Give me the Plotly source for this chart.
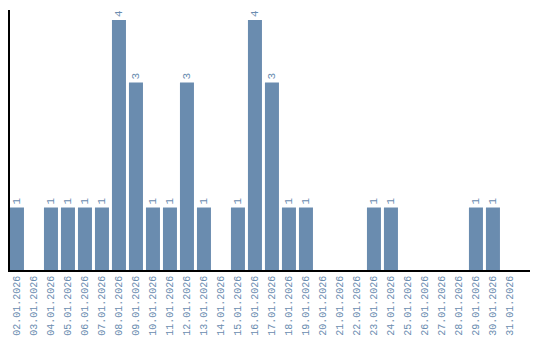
import plotly.graph_objects as go

dates = ["02.01.2026","03.01.2026","04.01.2026","05.01.2026","06.01.2026","07.01.2026",
         "08.01.2026","09.01.2026","10.01.2026","11.01.2026","12.01.2026","13.01.2026",
         "14.01.2026","15.01.2026","16.01.2026","17.01.2026","18.01.2026","19.01.2026",
         "20.01.2026","21.01.2026","22.01.2026","23.01.2026","24.01.2026","25.01.2026",
         "26.01.2026","27.01.2026","28.01.2026","29.01.2026","30.01.2026","31.01.2026"]
counts = [1,0,1,1,1,1,4,3,1,1,3,1,0,1,4,3,1,1,0,0,0,1,1,0,0,0,0,1,1,0]

labels = [str(v) if v > 0 else "" for v in counts]

color = "#6a8caf"
mono = "Liberation Mono"
fig = go.Figure(go.Bar(
    x=dates, y=counts, marker_color=color, marker_line_width=0,
    text=labels, textposition="outside", textangle=-90,
    textfont=dict(family=mono, size=11, color=color),
    cliponaxis=False,
))
fig.update_layout(
    width=540, height=340, margin=dict(l=10, r=10, t=10, b=70),
    plot_bgcolor="white", paper_bgcolor="white", bargap=0.176,
    showlegend=False,
    font=dict(family=mono, size=10, color=color),
)
fig.update_xaxes(type="category", range=[-0.41, 30.18],
                 showline=True, linecolor="black", linewidth=1.5,
                 tickangle=-90, showgrid=False, ticks="", automargin=False,
                 tickfont=dict(family=mono, size=10, color=color))
fig.update_yaxes(range=[0, 4.16], showline=True, linecolor="black", linewidth=1.5,
                 showticklabels=False, showgrid=False, zeroline=False, ticks="",
                 automargin=False)
fig.write_html("out.html")
